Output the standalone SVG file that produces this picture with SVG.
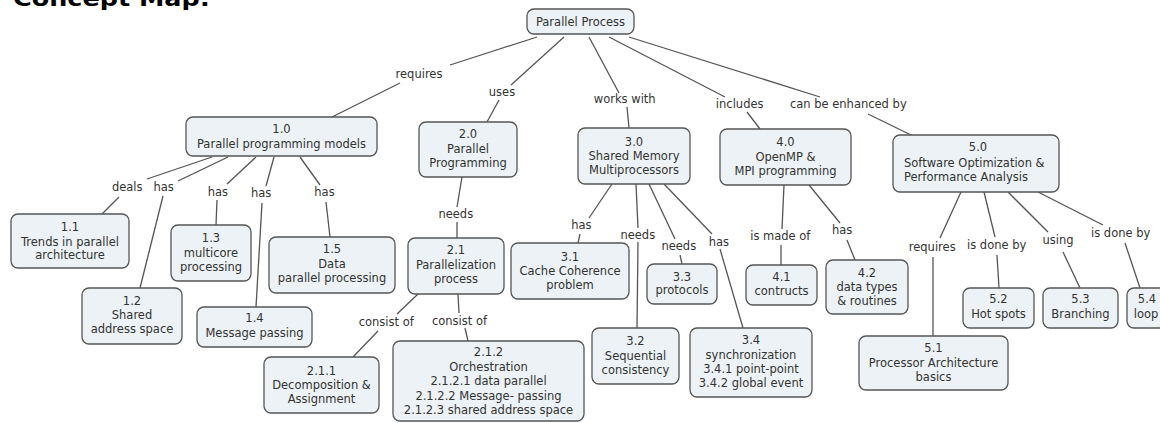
<svg xmlns="http://www.w3.org/2000/svg" width="1160" height="423" viewBox="0 0 1160 423">
  <style>
    .node rect { fill: #ecf2f5; stroke: #555; stroke-width: 1.3; }
    .node text { font-family: "DejaVu Sans", Verdana, sans-serif; font-size: 11.5px; fill: #333; text-anchor: middle; }
    .node text.left { text-anchor: start; }
    .conn line { stroke: #555; stroke-width: 1.3; fill: none; }
    .lbl { font-family: "DejaVu Sans", Verdana, sans-serif; font-size: 11.5px; fill: #333; text-anchor: middle; }
    .title { font-family: "DejaVu Sans", Verdana, sans-serif; font-size: 22px; font-weight: bold; fill: #000; }
  </style>
  <rect width="1160" height="423" fill="#fff"/>

  <text class="title" x="13" y="5.5" textLength="197" lengthAdjust="spacingAndGlyphs">Concept Map:</text>

  <!-- connectors: each link is split around its label -->
  <g id="connectors" class="conn">
    <line x1="537" y1="37" x2="450" y2="65"/>
    <line x1="400" y1="83" x2="332" y2="117"/>
    <line x1="564" y1="37" x2="511" y2="85"/>
    <line x1="499" y1="100" x2="487" y2="122"/>
    <line x1="589" y1="37" x2="619" y2="93"/>
    <line x1="627" y1="107" x2="629" y2="128"/>
    <line x1="609" y1="37" x2="725" y2="97"/>
    <line x1="747" y1="112" x2="760" y2="129"/>
    <line x1="629" y1="37" x2="820" y2="97"/>
    <line x1="868" y1="114" x2="911" y2="135"/>

    <line x1="212" y1="157" x2="147" y2="179"/>
    <line x1="119" y1="197" x2="102" y2="214"/>
    <line x1="228" y1="157" x2="178" y2="181"/>
    <line x1="163" y1="196" x2="140" y2="288"/>
    <line x1="256" y1="157" x2="227" y2="184"/>
    <line x1="217" y1="200" x2="216" y2="225"/>
    <line x1="274" y1="157" x2="266" y2="186"/>
    <line x1="262" y1="203" x2="256" y2="307"/>
    <line x1="300" y1="157" x2="320" y2="185"/>
    <line x1="326" y1="202" x2="330" y2="237"/>

    <line x1="462" y1="177" x2="457" y2="207"/>
    <line x1="457" y1="222" x2="457" y2="238"/>
    <line x1="418" y1="294" x2="397" y2="314"/>
    <line x1="378" y1="331" x2="353" y2="357"/>
    <line x1="458" y1="294" x2="459" y2="313"/>
    <line x1="465" y1="328" x2="468" y2="341"/>

    <line x1="612" y1="184" x2="589" y2="218"/>
    <line x1="580" y1="234" x2="578" y2="243"/>
    <line x1="636" y1="184" x2="638" y2="228"/>
    <line x1="638" y1="242" x2="637" y2="328"/>
    <line x1="649" y1="184" x2="675" y2="239"/>
    <line x1="680" y1="255" x2="682" y2="264"/>
    <line x1="664" y1="184" x2="712" y2="234"/>
    <line x1="720" y1="249" x2="743" y2="328"/>

    <line x1="784" y1="185" x2="782" y2="229"/>
    <line x1="781" y1="245" x2="781" y2="265"/>
    <line x1="809" y1="185" x2="840" y2="223"/>
    <line x1="847" y1="240" x2="855" y2="260"/>

    <line x1="961" y1="192" x2="940" y2="238"/>
    <line x1="933" y1="257" x2="933" y2="336"/>
    <line x1="984" y1="192" x2="995" y2="237"/>
    <line x1="997" y1="255" x2="999" y2="288"/>
    <line x1="1008" y1="192" x2="1048" y2="232"/>
    <line x1="1063" y1="252" x2="1080" y2="288"/>
    <line x1="1038" y1="192" x2="1103" y2="225"/>
    <line x1="1125" y1="243" x2="1140" y2="288"/>
  </g>

  <!-- link labels -->
  <g id="labels">
    <text class="lbl" x="419" y="78">requires</text>
    <text class="lbl" x="502" y="96.3">uses</text>
    <text class="lbl" x="624.7" y="103.3">works with</text>
    <text class="lbl" x="739.7" y="108.3">includes</text>
    <text class="lbl" x="848.3" y="108">can be enhanced by</text>
    <text class="lbl" x="127.2" y="190.7">deals</text>
    <text class="lbl" x="163.7" y="190.7">has</text>
    <text class="lbl" x="217.8" y="196.3">has</text>
    <text class="lbl" x="261.2" y="197.3">has</text>
    <text class="lbl" x="324.5" y="196.3">has</text>
    <text class="lbl" x="455.8" y="218">needs</text>
    <text class="lbl" x="386.2" y="325.7">consist of</text>
    <text class="lbl" x="459.5" y="324.7">consist of</text>
    <text class="lbl" x="581.3" y="229">has</text>
    <text class="lbl" x="637.8" y="239">needs</text>
    <text class="lbl" x="678.8" y="250">needs</text>
    <text class="lbl" x="718.8" y="245.7">has</text>
    <text class="lbl" x="780.3" y="240">is made of</text>
    <text class="lbl" x="842.2" y="234">has</text>
    <text class="lbl" x="932.2" y="250.7">requires</text>
    <text class="lbl" x="996.7" y="249">is done by</text>
    <text class="lbl" x="1058" y="244">using</text>
    <text class="lbl" x="1120.7" y="237.3">is done by</text>
  </g>

  <!-- concept nodes -->
  <g id="root" class="node">
    <rect x="527" y="9" width="107" height="25" rx="7"/>
    <text x="580.5" y="25.7">Parallel Process</text>
  </g>
  <g id="n1_0" class="node">
    <rect x="186" y="117" width="191" height="39" rx="7"/>
    <text x="281.5" y="133.3">1.0</text>
    <text x="281.5" y="148.3">Parallel programming models</text>
  </g>
  <g id="n2_0" class="node">
    <rect x="419" y="122" width="98" height="55" rx="7"/>
    <text x="468" y="138">2.0</text>
    <text x="468" y="153">Parallel</text>
    <text x="468" y="167.3">Programming</text>
  </g>
  <g id="n3_0" class="node">
    <rect x="578" y="128" width="112" height="56" rx="7"/>
    <text x="634" y="145.5">3.0</text>
    <text x="634" y="159.7">Shared Memory</text>
    <text x="634" y="174">Multiprocessors</text>
  </g>
  <g id="n4_0" class="node">
    <rect x="720" y="129" width="131" height="56" rx="7"/>
    <text x="785.5" y="146">4.0</text>
    <text x="785.5" y="160.5">OpenMP &amp;</text>
    <text x="785.5" y="175">MPI programming</text>
  </g>
  <g id="n5_0" class="node">
    <rect x="893" y="135" width="166" height="57" rx="7"/>
    <text x="978" y="151.3">5.0</text>
    <text class="left" x="904" y="166.7">Software Optimization &amp;</text>
    <text class="left" x="904" y="180.7">Performance Analysis</text>
  </g>
  <g id="n1_1" class="node">
    <rect x="11" y="214" width="118" height="54" rx="7"/>
    <text x="70" y="230.7">1.1</text>
    <text x="70" y="245.7">Trends in parallel</text>
    <text x="70" y="259">architecture</text>
  </g>
  <g id="n1_2" class="node">
    <rect x="82" y="288" width="100" height="56" rx="7"/>
    <text x="132" y="304.7">1.2</text>
    <text x="132" y="319.3">Shared</text>
    <text x="132" y="333.3">address space</text>
  </g>
  <g id="n1_3" class="node">
    <rect x="171" y="225" width="80" height="56" rx="7"/>
    <text x="211" y="242.3">1.3</text>
    <text x="211" y="256.7">multicore</text>
    <text x="211" y="270.7">processing</text>
  </g>
  <g id="n1_4" class="node">
    <rect x="197" y="307" width="115" height="40" rx="7"/>
    <text x="254.5" y="322.3">1.4</text>
    <text x="254.5" y="336.7">Message passing</text>
  </g>
  <g id="n1_5" class="node">
    <rect x="269" y="237" width="126" height="56" rx="7"/>
    <text x="332" y="253.3">1.5</text>
    <text x="332" y="268">Data</text>
    <text x="332" y="282.3">parallel processing</text>
  </g>
  <g id="n2_1" class="node">
    <rect x="408" y="238" width="96" height="56" rx="7"/>
    <text x="456" y="254">2.1</text>
    <text x="456" y="269">Parallelization</text>
    <text x="456" y="283.3">process</text>
  </g>
  <g id="n2_1_1" class="node">
    <rect x="264" y="357" width="115" height="56" rx="7"/>
    <text x="321.5" y="374.7">2.1.1</text>
    <text x="321.5" y="389.3">Decomposition &amp;</text>
    <text x="321.5" y="403.3">Assignment</text>
  </g>
  <g id="n2_1_2" class="node">
    <rect x="393" y="341" width="191" height="80" rx="7"/>
    <text x="488.5" y="356.3">2.1.2</text>
    <text x="488.5" y="371.3">Orchestration</text>
    <text x="488.5" y="385">2.1.2.1 data parallel</text>
    <text x="488.5" y="400">2.1.2.2 Message- passing</text>
    <text x="488.5" y="414">2.1.2.3 shared address space</text>
  </g>
  <g id="n3_1" class="node">
    <rect x="511" y="243" width="118" height="56" rx="7"/>
    <text x="570" y="260.7">3.1</text>
    <text x="570" y="275">Cache Coherence</text>
    <text x="570" y="289">problem</text>
  </g>
  <g id="n3_2" class="node">
    <rect x="592" y="328" width="87" height="56" rx="7"/>
    <text x="635.5" y="345">3.2</text>
    <text x="635.5" y="359.7">Sequential</text>
    <text x="635.5" y="374">consistency</text>
  </g>
  <g id="n3_3" class="node">
    <rect x="647" y="264" width="70" height="40" rx="7"/>
    <text x="682" y="280.7">3.3</text>
    <text x="682" y="294">protocols</text>
  </g>
  <g id="n3_4" class="node">
    <rect x="690" y="328" width="122" height="69" rx="7"/>
    <text x="751" y="344">3.4</text>
    <text x="751" y="359">synchronization</text>
    <text x="751" y="373">3.4.1 point-point</text>
    <text x="751" y="387.3">3.4.2 global event</text>
  </g>
  <g id="n4_1" class="node">
    <rect x="746" y="265" width="71" height="40" rx="7"/>
    <text x="781.5" y="280.7">4.1</text>
    <text x="781.5" y="294.7">contructs</text>
  </g>
  <g id="n4_2" class="node">
    <rect x="826" y="260" width="82" height="54" rx="7"/>
    <text x="867" y="276.7">4.2</text>
    <text x="867" y="291.3">data types</text>
    <text x="867" y="304.7">&amp; routines</text>
  </g>
  <g id="n5_1" class="node">
    <rect x="859" y="336" width="149" height="54" rx="7"/>
    <text x="933.5" y="352.3">5.1</text>
    <text x="933.5" y="367.3">Processor Architecture</text>
    <text x="933.5" y="381.3">basics</text>
  </g>
  <g id="n5_2" class="node">
    <rect x="963" y="288" width="71" height="40" rx="7"/>
    <text x="998.5" y="303.3">5.2</text>
    <text x="998.5" y="318">Hot spots</text>
  </g>
  <g id="n5_3" class="node">
    <rect x="1043" y="288" width="75" height="40" rx="7"/>
    <text x="1080.5" y="303.3">5.3</text>
    <text x="1080.5" y="318">Branching</text>
  </g>
  <g id="n5_4" class="node">
    <rect x="1127" y="288" width="44" height="40" rx="7"/>
    <text x="1147" y="303.3">5.4</text>
    <text x="1146" y="318">loop</text>
  </g>
</svg>
